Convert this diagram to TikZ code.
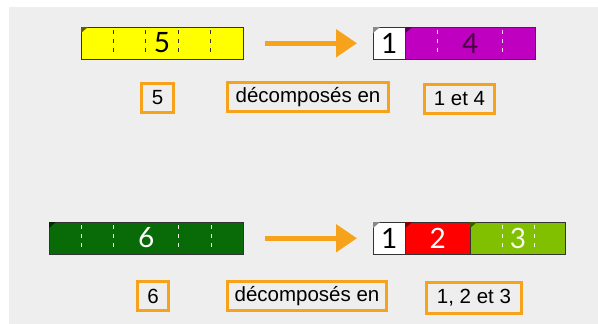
\documentclass[tikz,border=0pt]{standalone}
\usepackage{fontspec}
\setmainfont{Liberation Sans}
\newfontfamily\digitfont{Lato}
\usetikzlibrary{arrows.meta}
\definecolor{bg}{HTML}{EEEEEE}
\definecolor{orng}{HTML}{F7A21B}
\definecolor{segline}{HTML}{333333}
\definecolor{yel}{HTML}{FFFF00}
\definecolor{yeltri}{HTML}{6B5A00}
\definecolor{purp}{HTML}{C000C0}
\definecolor{purptri}{HTML}{5A005A}
\definecolor{purpdig}{HTML}{4A0042}
\definecolor{dgreen}{HTML}{086B08}
\definecolor{dgreentri}{HTML}{002800}
\definecolor{lgreen}{HTML}{80C000}
\definecolor{lgreentri}{HTML}{3A5A00}
\definecolor{rd}{HTML}{FF0000}
\definecolor{rdtri}{HTML}{800000}
\definecolor{whtri}{HTML}{888888}
\tikzset{
  seg/.style={draw=segline, line width=0.8pt, minimum height=32.5pt, inner sep=0pt, outer sep=0pt, anchor=north west},
  dsh/.style={line width=0.7pt, dash pattern=on 4pt off 5pt},
  dig/.style={inner sep=0pt, font=\digitfont\fontsize{28}{28}\selectfont},
  lbl/.style={draw=orng, line width=3pt, fill=bg, inner sep=0pt, minimum height=29pt, font=\fontsize{20.5}{22}\selectfont},
  arr/.style={draw=orng, line width=5pt, -{Triangle[length=21pt,width=27pt]}}
}
\begin{document}
\begin{tikzpicture}[x=1pt,y=-1pt]
\useasboundingbox (0,0) rectangle (598,324);
\fill[white] (0,0) rectangle (598,324);
\fill[bg] (9,7) rectangle (598,324);

% ---- top row ----
\node[seg, fill=yel, minimum width=162pt] (y5) at (81,27) {};
\fill[yeltri] (81,27) -- ++(7,0) -- ++(-7,6) -- cycle;
\foreach \k in {1,2,3,4} \draw[dsh, segline] (81+\k*32.4,30) -- (81+\k*32.4,56);
\node[dig, text=black] (d5) at (162,43) {5};

\node[seg, fill=white, minimum width=32.4pt] (w1a) at (373,27) {};
\fill[whtri] (373,27) -- ++(7,0) -- ++(-7,6) -- cycle;
\node[dig, text=black] (d1a) at (389.2,43) {1};
\node[seg, fill=purp, minimum width=129.6pt] (p4) at (405.4,27) {};
\fill[purptri] (405.4,27) -- ++(7,0) -- ++(-7,6) -- cycle;
\foreach \k in {1,3} \draw[dsh, white!85!purp] (405.4+\k*32.4,30) -- (405.4+\k*32.4,56);
\node[dig, text=purpdig] (d4) at (470.2,43) {4};

\draw[arr, shorten <=22pt, shorten >=16pt] (y5.east) -- (w1a.west);

\node[lbl, minimum width=32pt] (l5) at (157.5,97.5) {5};
\node[lbl, minimum width=161pt] (ldec1) at (308,97) {décomposés en};
\node[lbl, minimum width=70pt] (l14) at (459.5,98.5) {1 et 4};

% ---- bottom row ----
\node[seg, fill=dgreen, minimum width=194.4pt] (g6) at (49,222) {};
\fill[dgreentri] (49,222) -- ++(7,0) -- ++(-7,6) -- cycle;
\foreach \k in {1,2,4,5} \draw[dsh, white!90!dgreen] (49+\k*32.4,225) -- (49+\k*32.4,251);
\node[dig, text=white] (d6) at (146.2,238) {6};

\node[seg, fill=white, minimum width=32.4pt] (w1b) at (373,222) {};
\fill[whtri] (373,222) -- ++(7,0) -- ++(-7,6) -- cycle;
\node[dig, text=black] (d1b) at (389.2,238) {1};
\node[seg, fill=rd, minimum width=64.8pt] (r2) at (405.4,222) {};
\fill[rdtri] (405.4,222) -- ++(7,0) -- ++(-7,6) -- cycle;
\node[dig, text=white] (d2) at (437.8,238) {2};
\node[seg, fill=lgreen, minimum width=95.6pt] (lg3) at (470.2,222) {};
\fill[lgreentri] (470.2,222) -- ++(7,0) -- ++(-7,6) -- cycle;
\foreach \k in {1,2} \draw[dsh, white!90!lgreen] (470.2+\k*32,225) -- (470.2+\k*32,251);
\node[dig, text=white!92!lgreen] (d3) at (518,238) {3};

\draw[arr, shorten <=22pt, shorten >=16pt] (g6.east) -- (w1b.west);

\node[lbl, minimum width=31pt] (l6) at (153,296) {6};
\node[lbl, minimum width=159pt] (ldec2) at (307,296) {décomposés en};
\node[lbl, minimum width=95pt, minimum height=31pt] (l123) at (474,298) {1, 2 et 3};
\end{tikzpicture}
\end{document}
